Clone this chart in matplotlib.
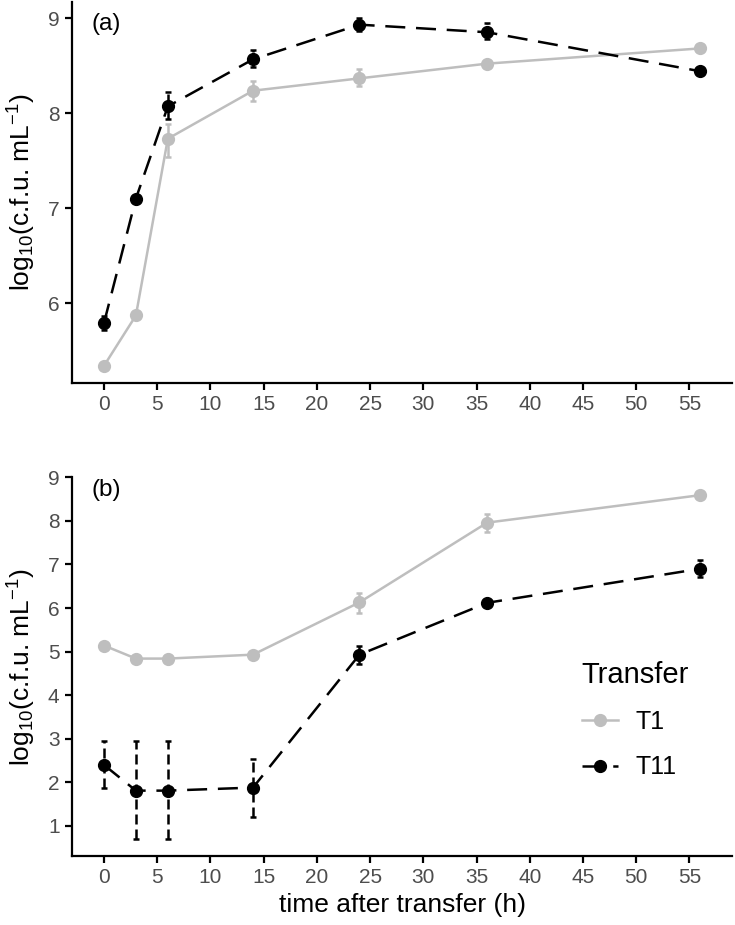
import numpy as np
import matplotlib
matplotlib.use("Agg")
import matplotlib.pyplot as plt

plt.rcParams['font.family'] = ['Liberation Sans', 'DejaVu Sans']
plt.rcParams['mathtext.fontset'] = 'custom'
plt.rcParams['mathtext.rm'] = 'Liberation Sans'
plt.rcParams['mathtext.it'] = 'Liberation Sans'

# sampling times (h)
hours = [0, 3, 6, 14, 24, 36, 56]

# panel (a)
a_t1 = [5.34, 5.87, 7.73, 8.235, 8.365, 8.52, 8.68]
a_t1_lo = [5.32, 5.85, 7.54, 8.13, 8.28, 8.50, 8.66]
a_t1_hi = [5.36, 5.89, 7.88, 8.34, 8.46, 8.54, 8.70]
a_t11 = [5.79, 7.10, 8.07, 8.565, 8.93, 8.85, 8.44]
a_t11_lo = [5.72, 7.08, 7.94, 8.48, 8.86, 8.78, 8.42]
a_t11_hi = [5.86, 7.12, 8.22, 8.66, 9.00, 8.95, 8.46]

# panel (b)
b_t1 = [5.14, 4.84, 4.84, 4.93, 6.13, 7.96, 8.59]
b_t1_lo = [5.12, 4.82, 4.82, 4.91, 5.89, 7.75, 8.57]
b_t1_hi = [5.16, 4.86, 4.86, 4.95, 6.35, 8.15, 8.61]
b_t11 = [2.40, 1.81, 1.81, 1.88, 4.93, 6.12, 6.90]
b_t11_lo = [1.87, 0.70, 0.70, 1.21, 4.72, 6.10, 6.71]
b_t11_hi = [2.94, 2.94, 2.94, 2.53, 5.12, 6.14, 7.10]

labels = ["T1", "T11"]
panel_tags = ["(a)", "(b)"]

grey = "#BEBEBE"
tickcol = "#4D4D4D"
dash = (8, 4.3)

fig = plt.figure(figsize=(7.35, 9.25), dpi=100)
ax1 = fig.add_axes([0.098, 0.586, 0.898, 0.412])
ax2 = fig.add_axes([0.098, 0.0746, 0.898, 0.4094])


def draw(ax, t1, t1lo, t1hi, t11, t11lo, t11hi):
    x = np.array(hours)
    t1 = np.array(t1)
    t11 = np.array(t11)
    e1 = [t1 - np.array(t1lo), np.array(t1hi) - t1]
    e11 = [t11 - np.array(t11lo), np.array(t11hi) - t11]
    ax.errorbar(x, t1, yerr=e1, color=grey, lw=1.8, capsize=2.5, capthick=1.8,
                elinewidth=1.8, fmt='none', zorder=2)
    l1, = ax.plot(x, t1, color=grey, lw=1.8, marker='o', ms=8.5, zorder=3,
                  label=labels[0])
    eb = ax.errorbar(x, t11, yerr=e11, color='black', capsize=2.5, capthick=1.8,
                     elinewidth=1.8, fmt='none', zorder=4)
    for lc in eb[2]:
        lc.set_linestyle((0, (4, 2)))
    l2, = ax.plot(x, t11, color='black', lw=1.8, marker='o', ms=8.5,
                  dashes=dash, zorder=5, label=labels[1])
    ax.set_xlim(-3, 59)
    ax.set_xticks(np.arange(0, 56, 5))
    for s in ['top', 'right']:
        ax.spines[s].set_visible(False)
    for s in ['left', 'bottom']:
        ax.spines[s].set_linewidth(1.6)
    ax.tick_params(width=1.6, length=5, colors='black', labelcolor=tickcol,
                   labelsize=15, pad=4)
    ax.set_ylabel(r'log$_{10}$(c.f.u. mL$^{-1}$)', fontsize=19, labelpad=7)
    return l1, l2


draw(ax1, a_t1, a_t1_lo, a_t1_hi, a_t11, a_t11_lo, a_t11_hi)
ax1.set_ylim(5.16, 9.17)
ax1.set_yticks([6, 7, 8, 9])
ax1.text(0.03, 0.97, panel_tags[0], transform=ax1.transAxes, fontsize=17.5,
         va='top', ha='left')

h1, h2 = draw(ax2, b_t1, b_t1_lo, b_t1_hi, b_t11, b_t11_lo, b_t11_hi)
ax2.set_ylim(0.31, 9.0)
ax2.set_yticks(range(1, 10))
ax2.text(0.03, 0.995, panel_tags[1], transform=ax2.transAxes, fontsize=17.5,
         va='top', ha='left')
ax2.set_xlabel('time after transfer (h)', fontsize=19, labelpad=4)

leg = ax2.legend(handles=[h1, h2], title='Transfer', loc='upper left',
                 bbox_to_anchor=(0.753, 0.548), frameon=False, fontsize=18,
                 title_fontsize=21, handlelength=1.45, labelspacing=0.85,
                 handletextpad=0.7, borderpad=0, alignment='left')

fig.savefig('out.png', dpi=100)
